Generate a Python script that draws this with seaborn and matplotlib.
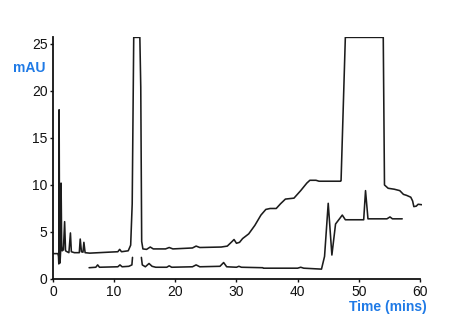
import matplotlib
matplotlib.use("Agg")
import matplotlib.pyplot as plt
import seaborn as sns
import pandas as pd

# Upper chromatogram trace
upper_time = [0.0, 0.8, 0.9, 0.95, 1.0, 1.08, 1.15, 1.25, 1.32, 1.42, 1.5, 1.7, 1.9, 2.05,
              2.3, 2.6, 2.85, 3.0, 3.5, 4.3, 4.45, 4.65, 4.9, 5.05, 5.25, 6.0, 7.5, 9.0,
              10.6, 10.9, 11.2, 12.3, 12.7, 12.95, 13.2, 14.2, 14.35, 14.5, 14.7, 15.3,
              15.9, 16.4, 18.4, 19.0, 19.6, 22.8, 23.4, 24.0, 27.5, 28.5, 29.3, 29.6,
              30.0, 30.5, 31.0, 32.0, 33.0, 34.0, 34.8, 35.5, 36.5, 37.2, 38.0, 39.4,
              40.5, 41.5, 42.0, 43.0, 43.5, 47.0, 47.1, 47.8, 54.0, 54.2, 54.8, 55.8,
              56.7, 57.3, 57.8, 58.5, 58.8, 59.0, 59.4, 59.7, 60.3]
upper_mau = [2.7, 2.7, 2.4, 1.6, 18.0, 2.0, 1.7, 3.0, 10.2, 3.5, 3.0, 3.1, 6.1, 3.0,
             2.9, 2.8, 4.9, 2.9, 2.8, 2.8, 4.25, 2.9, 2.85, 3.9, 2.8, 2.75, 2.8, 2.85,
             2.9, 3.15, 2.9, 3.0, 3.6, 8.0, 25.7, 25.7, 20.4, 4.0, 3.2, 3.15,
             3.4, 3.2, 3.2, 3.35, 3.2, 3.3, 3.5, 3.35, 3.4, 3.5, 4.0, 4.2,
             3.8, 3.9, 4.3, 4.8, 5.7, 6.8, 7.4, 7.5, 7.5, 8.0, 8.5, 8.6,
             9.4, 10.2, 10.5, 10.5, 10.4, 10.4, 10.45, 25.7, 25.7, 10.0, 9.65, 9.55,
             9.4, 9.0, 8.9, 8.7, 8.3, 7.7, 7.75, 7.95, 7.9]

# Lower chromatogram trace (two segments, broken under the big peak)
lower_time_a = [5.9, 7.0, 7.3, 7.6, 10.6, 10.95, 11.3, 12.4, 12.9, 13.0]
lower_mau_a = [1.2, 1.25, 1.5, 1.25, 1.3, 1.5, 1.3, 1.35, 1.5, 2.3]
lower_time_b = [14.45, 14.6, 15.1, 15.7, 16.2, 16.8, 18.6, 19.0, 19.4, 22.8, 23.4, 24.0,
                27.3, 27.9, 28.4, 30.0, 30.4, 30.8, 34.3, 34.4, 40.0, 40.5, 41.0, 43.9,
                44.4, 45.0, 45.6, 46.2, 46.9, 47.3, 47.8, 50.8, 51.1, 51.5, 54.6, 55.1,
                55.5, 57.1]
lower_mau_b = [2.3, 1.5, 1.3, 1.65, 1.35, 1.25, 1.25, 1.4, 1.25, 1.3, 1.5, 1.3,
               1.35, 1.75, 1.3, 1.25, 1.35, 1.25, 1.2, 1.15, 1.15, 1.25, 1.15, 1.05,
               2.4, 8.05, 2.55, 5.85, 6.45, 6.8, 6.3, 6.3, 9.4, 6.4, 6.4, 6.6,
               6.4, 6.4]

x_ticks = [0, 10, 20, 30, 40, 50, 60]
y_ticks = [0, 5, 10, 15, 20, 25]

sns.set_style("ticks")
plt.rcParams["font.family"] = ["Liberation Sans", "DejaVu Sans"]

df = pd.concat([
    pd.DataFrame({"t": upper_time, "v": upper_mau, "seg": "u"}),
    pd.DataFrame({"t": lower_time_a, "v": lower_mau_a, "seg": "la"}),
    pd.DataFrame({"t": lower_time_b, "v": lower_mau_b, "seg": "lb"}),
], ignore_index=True)

fig = plt.figure(figsize=(4.68, 3.26), dpi=100)
ax = fig.add_axes([53 / 468, 1 - 279 / 326, (422.4 - 53) / 468, (279 - 37) / 326])

sns.lineplot(data=df, x="t", y="v", units="seg", estimator=None, sort=False,
             color="#1c1c1c", linewidth=1.15, ax=ax, legend=False)

ax.set_xlim(0, 60.4)
ax.set_ylim(0, 25.74)
ax.set_xticks(x_ticks)
ax.set_yticks(y_ticks)
ax.set_xticklabels([str(v) for v in x_ticks])
ax.set_yticklabels([str(v) for v in y_ticks])
ax.spines["bottom"].set_bounds(0, 60)
for s in ["top", "right"]:
    ax.spines[s].set_visible(False)
for s in ["left", "bottom"]:
    ax.spines[s].set_linewidth(1.3)
    ax.spines[s].set_color("#111111")
ax.tick_params(axis="both", direction="out", length=2.5, width=1.0, colors="#111111",
               labelsize=10, pad=1.5, labelcolor="#111111")
ax.set_xlabel("")
ax.set_ylabel("")

fig.text(29 / 468, 1 - 68 / 326, "mAU", color="#1f7ae6", fontsize=10,
         ha="center", va="center", fontweight="semibold")
fig.text(388 / 468, 1 - 306.5 / 326, "Time (mins)", color="#1f7ae6", fontsize=10,
         ha="center", va="center", fontweight="semibold")

fig.savefig("out.png", dpi=100)
